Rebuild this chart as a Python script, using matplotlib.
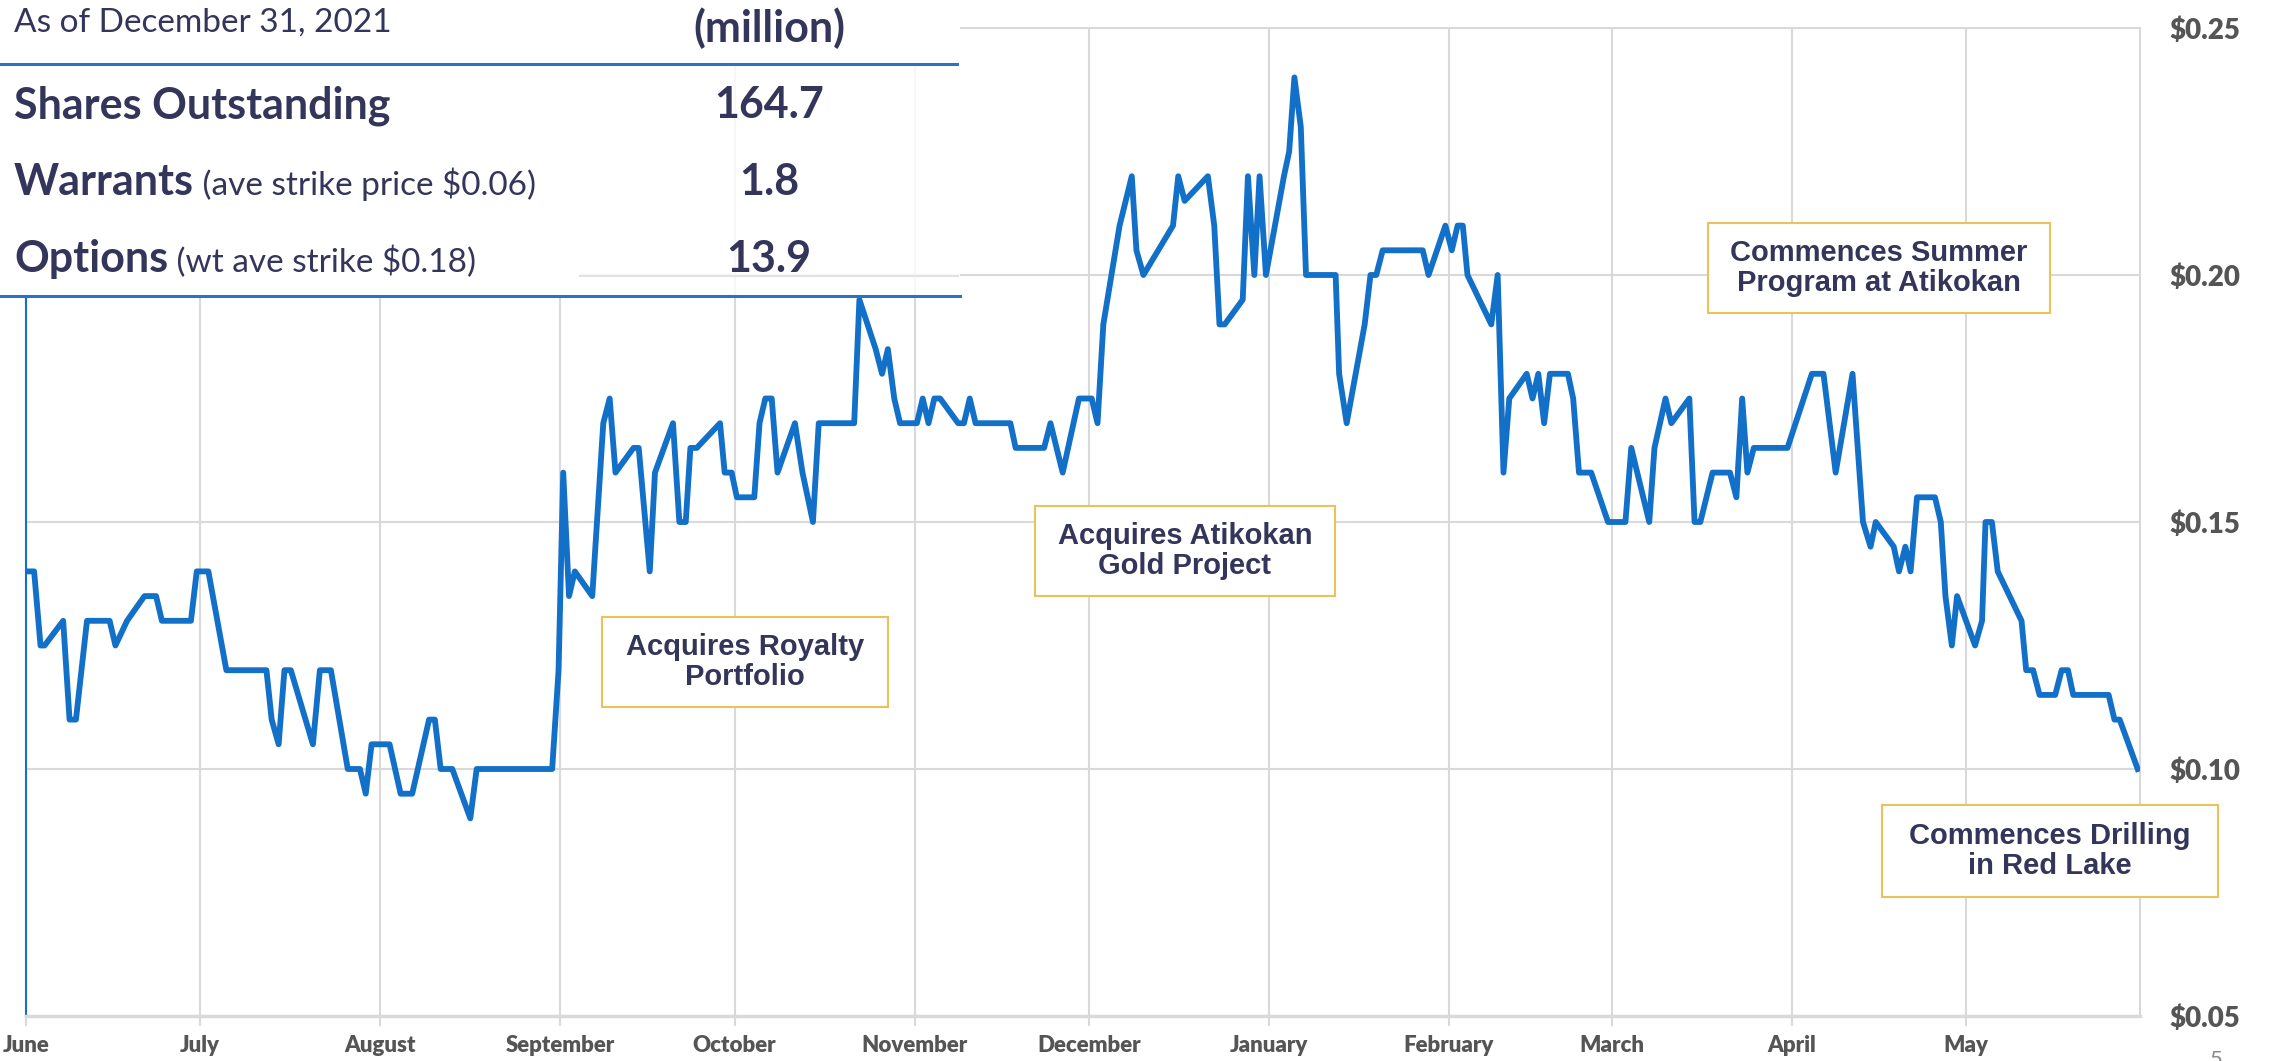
import matplotlib.pyplot as plt
from matplotlib.patches import Rectangle
from matplotlib.lines import Line2D
import pandas as pd

# share price, traded days counted from June 1, 2021
days = [0.0, 1.4, 2.5, 3.2, 6.4, 7.5, 8.6, 10.5, 14.4, 15.4, 17.4, 20.4, 22.4, 23.4, 28.4,
        29.4, 31.4, 34.5, 41.4, 42.3, 43.5, 44.5, 45.6, 49.4, 50.6, 52.5, 55.4, 57.5, 58.5,
        59.5, 62.6, 64.5, 66.5, 69.4, 70.4, 71.4, 73.4, 76.5, 77.6, 90.6,
        91.7, 92.5, 93.5, 94.5, 97.5, 99.4, 100.5, 101.5, 104.6, 105.5, 107.4, 108.3, 111.4,
        112.5, 113.6, 114.4, 115.5, 119.5, 120.3, 121.5, 122.4, 125.4, 126.3, 127.3, 128.4,
        129.4, 132.4, 133.7, 135.5, 136.5, 142.6, 143.5, 146.3, 147.4, 148.4, 149.5, 150.5,
        153.4, 154.4, 155.4, 156.4, 157.4, 160.5, 161.5, 162.5, 163.5, 169.5, 170.4, 175.3,
        176.4, 178.5, 181.3, 183.5, 184.5,
        185.5, 188.3, 190.4, 191.2, 192.4, 197.5, 198.4, 199.5, 203.5, 204.6, 205.5, 206.4,
        209.5, 210.4, 211.5, 212.4, 213.5, 216.6, 217.5, 218.4, 219.5, 220.4, 225.5, 226.1,
        227.4, 230.5, 231.5, 232.5, 233.6, 240.5, 241.5, 244.4, 245.5, 246.5, 247.4, 248.2,
        252.3, 253.4, 254.4, 255.4, 258.4, 259.4, 260.4, 261.4, 262.4, 265.5, 266.4, 267.4,
        269.5, 272.4,
        275.4, 276.4, 279.5, 280.4, 282.3, 283.3, 286.4, 287.3, 288.3, 290.4, 293.4, 294.5,
        295.5, 296.4, 297.5, 303.3, 307.5, 309.5, 311.6, 314.5, 316.3, 317.6, 318.5, 321.6,
        322.5, 323.6, 324.5, 325.6, 328.7, 329.7, 330.5, 331.6, 332.5, 335.6, 336.8, 337.4,
        338.5, 339.5, 343.6, 344.4, 345.6, 346.7, 349.4, 350.5, 351.6, 352.5, 358.6, 359.6,
        360.5, 363.6]
price = [0.140, 0.140, 0.125, 0.125, 0.130, 0.110, 0.110, 0.130, 0.130, 0.125, 0.130, 0.135,
         0.135, 0.130, 0.130, 0.140, 0.140, 0.120, 0.120, 0.110, 0.105, 0.120, 0.120, 0.105,
         0.120, 0.120, 0.100, 0.100, 0.095, 0.105, 0.105, 0.095, 0.095, 0.110, 0.110, 0.100,
         0.100, 0.090, 0.100, 0.100,
         0.120, 0.160, 0.135, 0.140, 0.135, 0.170, 0.175, 0.160, 0.165, 0.165, 0.140, 0.160,
         0.170, 0.150, 0.150, 0.165, 0.165, 0.170, 0.160, 0.160, 0.155, 0.155, 0.170, 0.175,
         0.175, 0.160, 0.170, 0.160, 0.150, 0.170, 0.170, 0.195, 0.185, 0.180, 0.185, 0.175,
         0.170, 0.170, 0.175, 0.170, 0.175, 0.175, 0.170, 0.170, 0.175, 0.170, 0.170, 0.165,
         0.165, 0.170, 0.160, 0.175, 0.175, 0.170,
         0.190, 0.210, 0.220, 0.205, 0.200, 0.210, 0.220, 0.215, 0.220, 0.210, 0.190, 0.190,
         0.195, 0.220, 0.200, 0.220, 0.200, 0.220, 0.225, 0.240, 0.230, 0.200, 0.200, 0.180,
         0.170, 0.190, 0.200, 0.200, 0.205, 0.205, 0.200, 0.210, 0.205, 0.210, 0.210, 0.200,
         0.190, 0.200, 0.160, 0.175, 0.180, 0.175, 0.180, 0.170, 0.180, 0.180, 0.175, 0.160,
         0.160, 0.150,
         0.150, 0.165, 0.150, 0.165, 0.175, 0.170, 0.175, 0.150, 0.150, 0.160, 0.160, 0.155,
         0.175, 0.160, 0.165, 0.165, 0.180, 0.180, 0.160, 0.180, 0.150, 0.145, 0.150, 0.145,
         0.140, 0.145, 0.140, 0.155, 0.155, 0.150, 0.135, 0.125, 0.135, 0.125, 0.130, 0.150,
         0.150, 0.140, 0.130, 0.120, 0.120, 0.115, 0.115, 0.120, 0.120, 0.115, 0.115, 0.110,
         0.110, 0.100]

months = ['June', 'July', 'August', 'September', 'October', 'November', 'December',
          'January', 'February', 'March', 'April', 'May']
start, end = '2021-06-01', '2022-05-31'
yticks = [0.05, 0.10, 0.15, 0.20, 0.25]
ylabels = ['$0.05', '$0.10', '$0.15', '$0.20', '$0.25']

table_rows = [('Shares Outstanding', '', '164.7'),
              ('Warrants', ' (ave strike price $0.06)', '1.8'),
              ('Options', ' (wt ave strike $0.18)', '13.9')]

events = ['Acquires Royalty\nPortfolio', 'Acquires Atikokan\nGold Project',
          'Commences Summer\nProgram at Atikokan', 'Commences Drilling\nin Red Lake']

W, H = 2272, 1061
navy = '#33355a'
blue = '#1270c8'
grey_txt = '#555555'
grid_c = '#d9d9d9'


def fx(px):
    return px / W


def fy(py):
    return 1 - py / H


fig = plt.figure(figsize=(W / 100, H / 100), dpi=100)
ax = fig.add_axes([fx(26), 45 / H, 2114 / W, 988 / H])

t0 = pd.Timestamp(start)
month_pos = [(d - t0).days for d in pd.date_range(start, end, freq='MS')]

ax.plot(days, price, color=blue, lw=4.2, solid_joinstyle='round', zorder=3)
ax.set_xlim(0, (pd.Timestamp(end) - t0).days)
ax.set_ylim(0.05, 0.25)

ax.set_xticks(month_pos)
ax.set_xticklabels(months, fontfamily='Lato', fontweight='heavy', fontsize=16, color=grey_txt)
ax.yaxis.tick_right()
ax.set_yticks(yticks)
ax.set_yticklabels(ylabels, fontfamily='Lato', fontweight='heavy', fontsize=20, color=grey_txt)
ax.tick_params(axis='x', length=7, width=1.5, color=grid_c, pad=7)
ax.tick_params(axis='y', length=0, pad=21)
ax.grid(True, color=grid_c, lw=1.5)
ax.set_axisbelow(True)
for s in ['top', 'right']:
    ax.spines[s].set_color(grid_c)
    ax.spines[s].set_linewidth(1.5)
ax.spines['bottom'].set_color(grid_c)
ax.spines['bottom'].set_linewidth(2.5)
ax.spines['left'].set_color(blue)
ax.spines['left'].set_linewidth(1.5)

# table panel in the top left corner
fig.add_artist(Rectangle((0, fy(64)), fx(960), 64 / H, transform=fig.transFigure,
                         facecolor='white', edgecolor='none', zorder=1))
fig.add_artist(Rectangle((0, fy(297)), fx(580), 233 / H, transform=fig.transFigure,
                         facecolor='white', edgecolor='none', zorder=1))
fig.add_artist(Rectangle((fx(580), fy(297)), fx(380), 233 / H, transform=fig.transFigure,
                         facecolor='white', edgecolor='none', alpha=0.8, zorder=1))
fig.add_artist(Line2D([fx(580), fx(958)], [fy(276), fy(276)], transform=fig.transFigure,
                      color='#e2e2e2', lw=1.5, zorder=2))
for yy, x1 in [(64, 957), (296, 960)]:
    fig.add_artist(Line2D([0, fx(x1)], [fy(yy), fy(yy)], transform=fig.transFigure,
                          color='#2a72c4', lw=2.2, zorder=2))

fig.text(fx(14), fy(32), 'As of December 31, 2021', family='Lato', fontsize=24,
         color=navy, va='baseline', zorder=3)
fig.text(fx(769), fy(42), '(million)', family='Lato', fontweight='bold', fontsize=31,
         color=navy, ha='center', va='baseline', zorder=3)
for (label, note, value), base in zip(table_rows, [118, 195, 272]):
    t = fig.text(fx(14), fy(base), label, family='Lato', fontweight='bold', fontsize=31,
                 color=navy, va='baseline', zorder=3)
    if note:
        fig.canvas.draw()
        bb = t.get_window_extent()
        fig.text(bb.x1 / W, fy(base), note, family='Lato', fontsize=24, color=navy,
                 va='baseline', zorder=3)
    fig.text(fx(769), fy(base), value, family='Lato', fontweight='bold', fontsize=31,
             color=navy, ha='center', va='baseline', zorder=3)

# event call-outs
boxes = [(602, 617, 888, 707), (1035, 506, 1335, 596), (1708, 223, 2050, 313),
         (1882, 805, 2218, 897)]
for txt, (x0, y0, x1, y1) in zip(events, boxes):
    fig.add_artist(Rectangle((fx(x0), fy(y1)), fx(x1 - x0), (y1 - y0) / H,
                             transform=fig.transFigure, facecolor='white',
                             edgecolor='#ebc15c', lw=1.5, zorder=2))
    fig.text(fx((x0 + x1) / 2), fy((y0 + y1) / 2), txt, family='Liberation Sans',
             fontweight='bold', fontsize=21, color=navy, ha='center', va='center',
             linespacing=1.1, zorder=3)

fig.text(fx(2216), fy(1050), '5', family='Lato', fontsize=16, color='#8a8a8a',
         ha='center', va='top')

fig.savefig('out.png', dpi=100)
